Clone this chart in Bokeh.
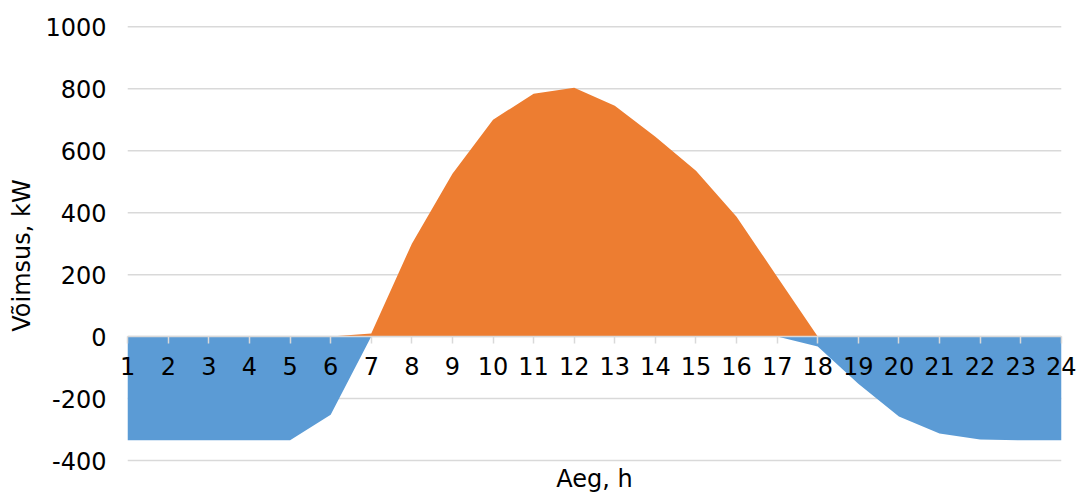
from bokeh.plotting import figure
from bokeh.models import Range1d, FixedTicker, Label, SingleIntervalTicker, CustomJSTickFormatter
from bokeh.embed import file_html
from bokeh.resources import INLINE

hours = list(range(1, 25))
generation = [0, 0, 0, 0, 0, 0, 10, 300, 526, 700, 784, 803, 745, 645, 535, 387, 193, 0,
              0, 0, 0, 0, 0, 0]
consumption = [-335, -335, -335, -335, -335, -252, 0, 0, 0, 0, 0, 0, 0, 0, 0, 0, 0, -32,
               -152, -258, -313, -332, -335, -335]
y_ticks = [-400, -200, 0, 200, 400, 600, 800, 1000]
x_title = "Aeg, h"
y_title = "Võimsus, kW"

FONT = "DejaVu Sans"
FS = "24px"
GRID = "#d9d9d9"

p = figure(width=1080, height=493, output_backend="svg", toolbar_location=None,
           x_range=Range1d(0.6, 24.4), y_range=Range1d(-506.5, 1030),
           min_border_left=111, min_border_right=3, min_border_top=17, min_border_bottom=0)
p.outline_line_color = None
p.background_fill_color = "white"
p.grid.visible = False

# horizontal gridlines spanning the category range only
n = len(y_ticks)
p.segment(x0=[hours[0]] * n, x1=[hours[-1]] * n, y0=y_ticks, y1=y_ticks,
          line_color=GRID, line_width=1.5)

p.varea(x=hours, y1=0, y2=consumption, fill_color="#5b9bd5")
p.varea(x=hours, y1=0, y2=generation, fill_color="#ed7d31")

# zero axis line on top of areas
p.segment(x0=[hours[0]], x1=[hours[-1]], y0=[0], y1=[0], line_color=GRID, line_width=1.5)

# y axis
p.yaxis.ticker = FixedTicker(ticks=y_ticks)
p.yaxis.formatter = CustomJSTickFormatter(code="return tick.toFixed(0)")
p.yaxis.axis_line_color = None
p.yaxis.major_tick_line_color = None
p.yaxis.major_tick_in = 0
p.yaxis.major_tick_out = 0
p.yaxis.minor_tick_line_color = None
p.yaxis.minor_tick_in = 0
p.yaxis.minor_tick_out = 0
p.yaxis.major_label_text_font = FONT
p.yaxis.major_label_text_font_size = FS
p.yaxis.major_label_text_color = "black"
p.yaxis.major_label_standoff = 5
p.yaxis.axis_label = y_title
p.yaxis.axis_label_text_font = FONT
p.yaxis.axis_label_text_font_size = FS
p.yaxis.axis_label_text_font_style = "normal"
p.yaxis.axis_label_text_color = "black"
p.yaxis.axis_label_standoff = 6

# x axis at zero
p.xaxis.fixed_location = 0
p.xaxis.ticker = SingleIntervalTicker(interval=1)
p.xaxis.axis_line_color = None
p.xaxis.major_tick_line_color = GRID
p.xaxis.major_tick_line_width = 1.5
p.xaxis.major_tick_in = 0
p.xaxis.major_tick_out = 7
p.xaxis.minor_tick_line_color = None
p.xaxis.major_label_text_font = FONT
p.xaxis.major_label_text_font_size = FS
p.xaxis.major_label_text_color = "black"
p.xaxis.major_label_standoff = 13

p.add_layout(Label(x=(hours[0] + hours[-1]) / 2, y=-461, text=x_title, text_align="center",
                   text_baseline="middle", text_font=FONT, text_font_size=FS,
                   text_color="black"))

open("out.html", "w").write(file_html(p, INLINE))
